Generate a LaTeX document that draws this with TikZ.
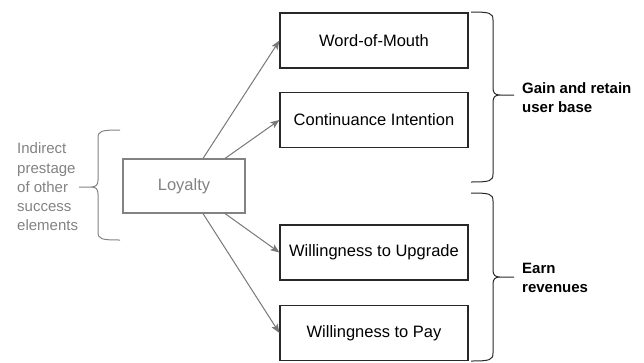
\documentclass[tikz,border=0pt]{standalone}
\usepackage{fontspec}
\setmainfont{Liberation Sans}
\usepackage{tikz}
\usetikzlibrary{arrows.meta}
\usepackage{xcolor}
\definecolor{softgray}{RGB}{130,130,130}
\definecolor{linegray}{RGB}{120,120,120}
\definecolor{boxline}{RGB}{40,40,40}

\begin{document}
\begin{tikzpicture}[x=1pt,y=-1pt,
  outcome/.style={draw=boxline,line width=1.1pt,minimum width=188pt,minimum height=55pt,inner sep=0pt,font=\fontsize{16.5}{20}\selectfont},
  goal/.style={anchor=west,align=left,inner sep=0pt,font=\fontsize{15}{19}\selectfont\bfseries},
  link/.style={linegray,line width=1pt,-{Stealth[length=9pt,width=7pt,inset=2pt]}}]
\useasboundingbox (0,0) rectangle (644,362);
\node[outcome] (wom) at (374,40.5) {Word-of-Mouth};
\node[outcome] (ci) at (374,120) {Continuance Intention};
\node[outcome] (wtu) at (374,252.5) {Willingness to Upgrade};
\node[outcome] (wtp) at (374,333) {Willingness to Pay};
\node[outcome,draw=softgray,text=softgray,minimum width=122pt,minimum height=54pt] (loyalty) at (184,186) {Loyalty};
\node[anchor=west,align=left,inner sep=0pt,text=softgray,font=\fontsize{15}{19.3}\selectfont] (prestage) at (17,187) {Indirect\\prestage\\of other\\success\\elements};
\node[goal] (userbase) at (522,97.5) {Gain and retain\\user base};
\node[goal] (revenues) at (522,278) {Earn\\revenues};
% arrows out of loyalty
\draw[link] ([xshift=19pt]loyalty.north) -- (wom.west);
\draw[link] ([xshift=41pt]loyalty.north) -- (ci.west);
\draw[link] ([xshift=41pt]loyalty.south) -- (wtu.west);
\draw[link] ([xshift=19pt]loyalty.south) -- (wtp.west);
% braces
\draw [softgray,line width=1pt] (120,130) .. controls (101,130) and (98,131) .. (98,138) -- (98,180) .. controls (98,185) and (96,187) .. (91,187) -- (79,187)
  (91,187) .. controls (96,187) and (98,189) .. (98,194) -- (98,232) .. controls (98,239) and (101,240) .. (120,240);
\draw [boxline,line width=1pt] (471,12) .. controls (490,12) and (493,13) .. (493,20) -- (493,88) .. controls (493,93) and (495,95) .. (500,95) -- (514,95)
  (500,95) .. controls (495,95) and (493,97) .. (493,102) -- (493,174) .. controls (493,181) and (490,182) .. (471,182);
\draw [boxline,line width=1pt] (471,193) .. controls (490,193) and (493,194) .. (493,201) -- (493,270) .. controls (493,275) and (495,277) .. (500,277) -- (514,277)
  (500,277) .. controls (495,277) and (493,279) .. (493,284) -- (493,353) .. controls (493,360) and (490,361) .. (471,361);
\end{tikzpicture}
\end{document}
